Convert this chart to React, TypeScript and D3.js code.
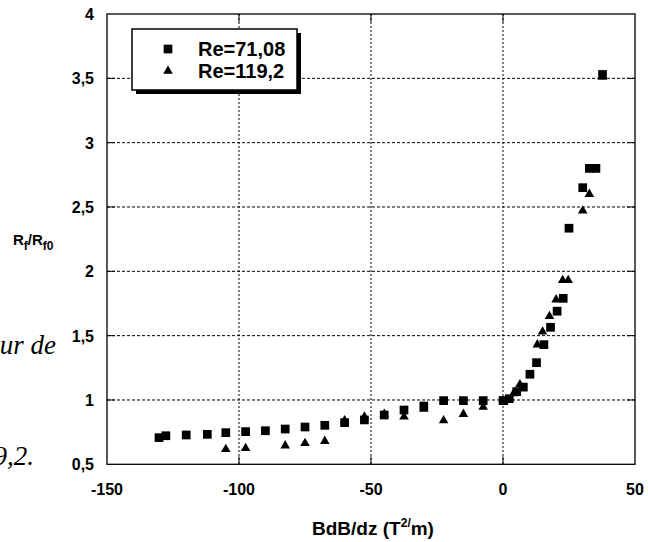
import React from "react";
import * as d3 from "d3";

const xTicks = [-150, -100, -50, 0, 50];
const yTicks = [0.5, 1, 1.5, 2, 2.5, 3, 3.5, 4];
const seriesNames = ["Re=71,08", "Re=119,2"];

const squaresX = [-130.3, -127.7, -120, -112, -105, -97.5, -90, -82.5, -75, -67.5, -60, -52.5, -45, -37.5, -30, -22.5, -15, -7.5, 0, 0.3, 2.4, 5.2, 7.7, 10.2, 12.7, 15.5, 18, 20.5, 22.8, 25, 30.2, 32.7, 35.2, 37.7];
const squaresY = [0.707, 0.722, 0.728, 0.733, 0.746, 0.754, 0.761, 0.774, 0.79, 0.803, 0.824, 0.845, 0.883, 0.922, 0.953, 0.995, 0.995, 0.995, 0.995, 0.995, 1.01, 1.065, 1.1, 1.2, 1.29, 1.43, 1.565, 1.69, 1.79, 2.335, 2.65, 2.8, 2.8, 3.53];

const triX = [-105, -97.5, -82.5, -75, -67.5, -60, -52.5, -45, -37.5, -30, -22.5, -15, -7.5, 4, 6.4, 13, 15, 17.6, 20.1, 22.6, 24.7, 30.2, 32.7, 37.7];
const triY = [0.617, 0.625, 0.645, 0.663, 0.68, 0.84, 0.87, 0.89, 0.87, 0.93, 0.84, 0.89, 0.945, 1.05, 1.12, 1.43, 1.53, 1.65, 1.78, 1.93, 1.93, 2.47, 2.6, 3.51];

const W = 648, H = 542;
const L = 107, R = 635, T = 14, B = 464.3;

function fmt(v: number) {
  return String(v).replace(".", ",");
}

export default function App() {
  const x = d3.scaleLinear().domain([-150, 50]).range([L, R]);
  const y = d3.scaleLinear().domain([0.5, 4]).range([B, T]);
  const tri = d3.symbol().type(d3.symbolTriangle).size(40)();
  const sqPath = d3.symbol().type(d3.symbolSquare).size(76)();
  const font = "Arial, 'Liberation Sans', sans-serif";
  const serif = "'Liberation Serif', 'Times New Roman', serif";
  return (
    <svg width={W} height={H} style={{ position: "absolute", left: 0, top: 0, background: "#fff" }} fontFamily={font}>
      <rect x={0} y={0} width={W} height={H} fill="#fff" />
      {yTicks.slice(1, -1).map((t) => (
        <line key={"gy" + t} x1={L} x2={R} y1={y(t)} y2={y(t)} stroke="#000" strokeWidth={1} strokeDasharray="3,2" />
      ))}
      {xTicks.slice(1, -1).map((t) => (
        <line key={"gx" + t} x1={x(t)} x2={x(t)} y1={T} y2={B} stroke="#000" strokeWidth={1} strokeDasharray="2,2" />
      ))}
      {xTicks.slice(1, -1).map((t) => (
        <g key={"tx" + t}>
          <line x1={x(t)} x2={x(t)} y1={B} y2={B - 8} stroke="#000" />
          <line x1={x(t)} x2={x(t)} y1={T} y2={T + 8} stroke="#000" />
        </g>
      ))}
      {yTicks.slice(1, -1).map((t) => (
        <g key={"ty" + t}>
          <line x1={L} x2={L + 8} y1={y(t)} y2={y(t)} stroke="#000" />
          <line x1={R} x2={R - 8} y1={y(t)} y2={y(t)} stroke="#000" />
        </g>
      ))}
      <rect x={L} y={T} width={R - L} height={B - T} fill="none" stroke="#000" strokeWidth={1.3} />
      {xTicks.map((t) => (
        <text key={"lx" + t} x={x(t)} y={495} textAnchor="middle" fontSize={16} fontWeight="bold">{fmt(t)}</text>
      ))}
      {yTicks.map((t) => (
        <text key={"ly" + t} x={94} y={y(t) + 6} textAnchor="end" fontSize={16} fontWeight="bold">{fmt(t)}</text>
      ))}
      {triX.map((v, i) => (
        <path key={"t" + i} d={tri} transform={`translate(${x(v)},${y(triY[i])})`} fill="#000" />
      ))}
      {squaresX.map((v, i) => (
        <path key={"s" + i} d={sqPath} transform={`translate(${x(v)},${y(squaresY[i])})`} fill="#000" />
      ))}
      <rect x={136} y={33} width={165} height={61} fill="#000" />
      <rect x={132} y={29} width={165} height={61} fill="#fff" stroke="#000" strokeWidth={1.5} />
      <path d={sqPath} transform="translate(168,49)" fill="#000" />
      <path d={tri} transform="translate(168,71)" fill="#000" />
      <text x={198} y={56} fontSize={20} fontWeight="bold">{seriesNames[0]}</text>
      <text x={198} y={78} fontSize={20} fontWeight="bold">{seriesNames[1]}</text>
      <text x={373} y={535} textAnchor="middle" fontSize={19} fontWeight="bold">
        BdB/dz (T<tspan fontSize={12} dy={-8}>2/</tspan><tspan dy={8}>m)</tspan>
      </text>
      <text x={13} y={245} fontSize={15} fontWeight="bold">
        R<tspan fontSize={12} dy={5}>f</tspan><tspan dy={-5}>/R</tspan><tspan fontSize={12} dy={5}>f0</tspan>
      </text>
      <text x={56} y={354} textAnchor="end" fontSize={27} fontStyle="italic" fontFamily={serif}>valeur de</text>
      <text x={34} y={465} textAnchor="end" fontSize={27} fontStyle="italic" fontFamily={serif}>119,2.</text>
    </svg>
  );
}
